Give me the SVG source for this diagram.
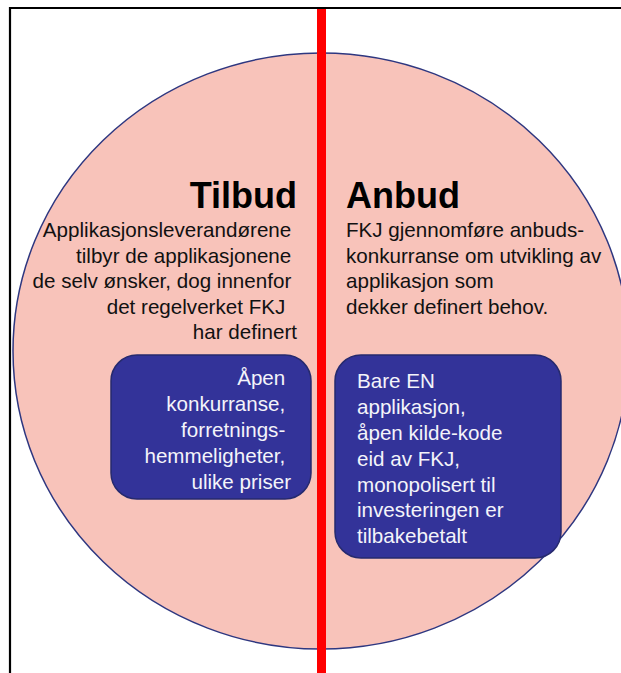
<svg xmlns="http://www.w3.org/2000/svg" width="621" height="673" viewBox="0 0 621 673">
<style>
.title{font-family:"Liberation Sans",Arial,sans-serif;font-weight:bold;font-size:36px;fill:#000}
.body{font-family:"Liberation Sans",Arial,sans-serif;font-size:20.6px;fill:#111}
.box{fill:#333399;stroke:#262a6e;stroke-width:1.5}
.boxt{font-family:"Liberation Sans",Arial,sans-serif;font-size:20.6px;fill:#f4f4fa}
</style>
<rect x="0" y="0" width="621" height="673" fill="#fff"/>
<g id="frame">
<polyline points="10,673 10,8 621,8" fill="none" stroke="#000" stroke-width="2.2"/>
</g>
<g id="circle">
<ellipse cx="321" cy="351" rx="308" ry="298" fill="#f8c3ba" stroke="#2e3780" stroke-width="1.5"/>
</g>
<g id="tilbud">
<text class="title" x="297" y="208" text-anchor="end">Tilbud</text>
<text class="body" text-anchor="end">
<tspan x="297" y="237">Applikasjonsleverandørene</tspan>
<tspan x="297" y="262.5">tilbyr de applikasjonene</tspan>
<tspan x="297" y="288">de selv ønsker, dog innenfor</tspan>
<tspan x="291" y="313.5">det regelverket FKJ</tspan>
<tspan x="297" y="339">har definert</tspan>
</text>
</g>
<g id="anbud">
<text class="title" x="346" y="208">Anbud</text>
<text class="body">
<tspan x="346" y="237">FKJ gjennomføre anbuds-</tspan>
<tspan x="346" y="262.5">konkurranse om utvikling av</tspan>
<tspan x="346" y="288">applikasjon som</tspan>
<tspan x="346" y="313.5">dekker definert behov.</tspan>
</text>
</g>
<g id="tilbud-box">
<rect class="box" x="111" y="355" width="200" height="144" rx="26" ry="26"/>
<text class="boxt" text-anchor="end">
<tspan x="291" y="385">Åpen</tspan>
<tspan x="291" y="411">konkurranse,</tspan>
<tspan x="291" y="437">forretnings-</tspan>
<tspan x="291" y="463">hemmeligheter,</tspan>
<tspan x="291" y="489">ulike priser</tspan>
</text>
</g>
<g id="anbud-box">
<rect class="box" x="335" y="355" width="226" height="203" rx="26" ry="26"/>
<text class="boxt">
<tspan x="357" y="388">Bare EN</tspan>
<tspan x="357" y="414">applikasjon,</tspan>
<tspan x="357" y="440">åpen kilde-kode</tspan>
<tspan x="357" y="466">eid av FKJ,</tspan>
<tspan x="357" y="491.5">monopolisert til</tspan>
<tspan x="357" y="517">investeringen er</tspan>
<tspan x="357" y="542.5">tilbakebetalt</tspan>
</text>
</g>
<g id="connectors">
<line x1="321.5" y1="9" x2="321.5" y2="673" stroke="#ff0000" stroke-width="9"/>
</g>
</svg>
